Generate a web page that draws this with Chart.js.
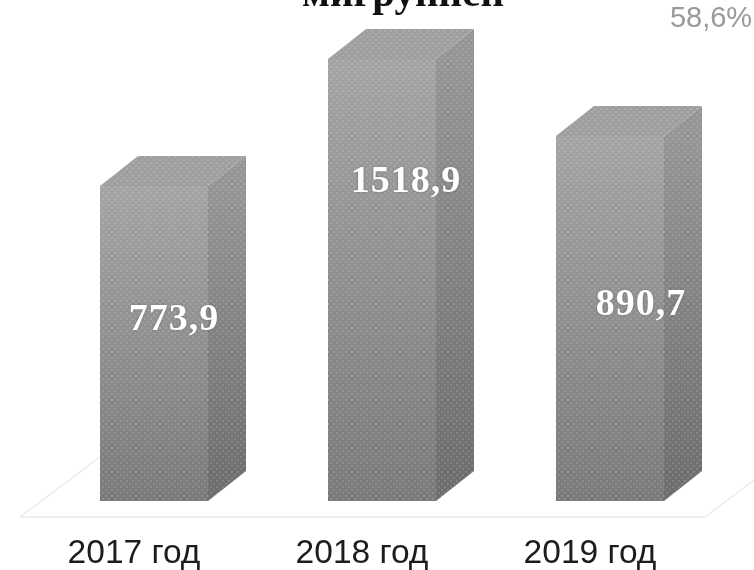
<!DOCTYPE html>
<html>
<head>
<meta charset="utf-8">
<style>
  html, body { margin: 0; padding: 0; background: #fff; }
  #wrap { width: 754px; height: 570px; }
</style>
<script src="https://cdn.jsdelivr.net/npm/chart.js@4"></script>
</head>
<body>
<div id="wrap"><canvas id="chart" width="754" height="570"></canvas></div>
<script>
const categories = ["2017 год", "2018 год", "2019 год"];
// numbers printed on the bars
const printedValues = ["773,9", "1518,9", "890,7"];
// heights as drawn: the 2018 bar in the picture is shorter than its 1518,9 label
const barHeights = [773.9, 1086, 897];
// only the lower part of the title shows, the wording is a best guess
const titleText = "мигрупнен";
const cornerNote = "58,6%";

const DEPTH_X = 38;
const DEPTH_Y = 30;
// where each number sits, relative to the bar's centre and top
const LABEL_SHIFT = [[20, 134], [24, 123], [31, 169]];

// faint dotted grain the scanned bars have
function grain(ctx) {
  const tile = document.createElement("canvas");
  tile.width = tile.height = 6;
  const t = tile.getContext("2d");
  t.fillStyle = "rgba(255,255,255,0.13)";
  t.fillRect(0, 0, 2, 2);
  t.fillRect(3, 3, 2, 2);
  return ctx.createPattern(tile, "repeat");
}

const threeD = {
  id: "threeD",
  // floor goes under the bars
  beforeDatasetsDraw(chart) {
    const { ctx, chartArea } = chart;
    const y = chartArea.bottom + 16;
    ctx.save();
    ctx.strokeStyle = "#dedede";
    ctx.lineWidth = 1;
    ctx.beginPath();
    ctx.moveTo(100, y - 60);
    ctx.lineTo(20, y);
    ctx.lineTo(705, y);
    ctx.lineTo(754, y - 37);
    ctx.stroke();
    ctx.restore();
  },
  afterDatasetsDraw(chart) {
    const { ctx } = chart;
    const dots = grain(ctx);
    chart.getDatasetMeta(0).data.forEach((bar, i) => {
      const half = bar.width / 2;
      const l = bar.x - half, r = bar.x + half, t = bar.y, b = bar.base;

      const side = new Path2D();
      side.moveTo(r, t);
      side.lineTo(r + DEPTH_X, t - DEPTH_Y);
      side.lineTo(r + DEPTH_X, b - DEPTH_Y);
      side.lineTo(r, b);
      side.closePath();
      const sideFill = ctx.createLinearGradient(0, t, 0, b);
      sideFill.addColorStop(0, "#959595");
      sideFill.addColorStop(1, "#6c6c6c");
      ctx.fillStyle = sideFill;
      ctx.fill(side);

      const top = new Path2D();
      top.moveTo(l, t);
      top.lineTo(l + DEPTH_X, t - DEPTH_Y);
      top.lineTo(r + DEPTH_X, t - DEPTH_Y);
      top.lineTo(r, t);
      top.closePath();
      ctx.fillStyle = "#9f9f9f";
      ctx.fill(top);

      ctx.fillStyle = dots;
      ctx.fill(side);
      ctx.fill(top);
      ctx.fillRect(l, t, r - l, b - t);

      ctx.save();
      ctx.font = "bold 38px 'Liberation Serif'";
      ctx.letterSpacing = "1px";
      ctx.fillStyle = "#fff";
      ctx.textAlign = "center";
      ctx.textBaseline = "middle";
      ctx.shadowColor = "rgba(70,70,70,0.5)";
      ctx.shadowBlur = 3;
      ctx.fillText(printedValues[i], bar.x + LABEL_SHIFT[i][0], t + LABEL_SHIFT[i][1]);
      ctx.restore();
    });
  },
  afterDraw(chart) {
    const { ctx } = chart;
    ctx.save();
    ctx.textAlign = "center";
    ctx.textBaseline = "alphabetic";
    // title is cut by the top edge in the reference
    ctx.font = "bold 41px 'Liberation Serif'";
    ctx.fillStyle = "#111";
    ctx.fillText(titleText, 403, 6);
    ctx.font = "29px 'Liberation Sans'";
    ctx.fillStyle = "#9a9a9a";
    ctx.fillText(cornerNote, 711, 27);
    ctx.restore();
  },
};

new Chart(document.getElementById("chart"), {
  type: "bar",
  data: {
    labels: categories,
    datasets: [{
      data: barHeights,
      barPercentage: 108 / 228,
      categoryPercentage: 1,
      backgroundColor: (c) => {
        const area = c.chart.chartArea;
        if (!area) return "#999";
        const top = c.chart.scales.y.getPixelForValue(barHeights[c.dataIndex]);
        const g = c.chart.ctx.createLinearGradient(0, top, 0, area.bottom);
        g.addColorStop(0, "#a4a4a4");
        g.addColorStop(1, "#7a7a7a");
        return g;
      },
    }],
  },
  options: {
    responsive: false,
    animation: false,
    layout: { padding: { left: 40, right: 30 } },
    plugins: { legend: { display: false }, tooltip: { enabled: false } },
    scales: {
      x: {
        afterFit: (axis) => { axis.height = 69; },
        grid: { display: false },
        border: { display: false },
        ticks: {
          color: "#1c1c1c",
          labelOffset: -20,
          padding: 25,
          maxRotation: 0,
          font: { family: "'Liberation Sans'", size: 33.5 },
        },
      },
      y: { display: false, min: 0, max: 1231 },
    },
  },
  plugins: [threeD],
});
</script>
</body>
</html>
